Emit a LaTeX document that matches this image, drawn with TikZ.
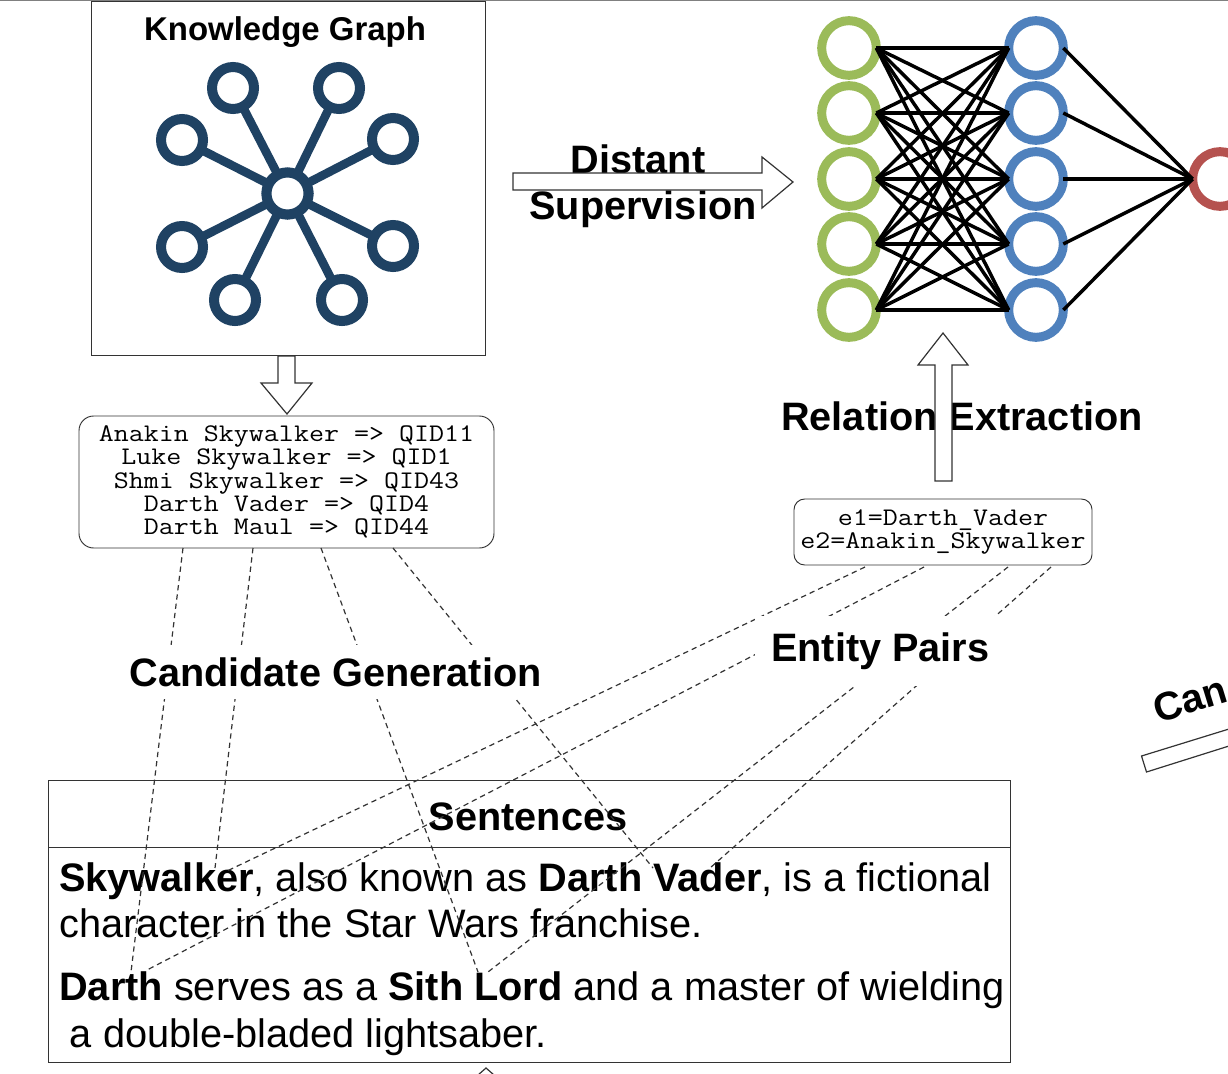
\documentclass[tikz,border=0pt]{standalone}
\usepackage{fontspec}
\setmainfont{Liberation Sans}
\newfontfamily\idfont[FakeStretch=1.15]{Latin Modern Mono}
\usetikzlibrary{positioning}

\definecolor{kgblue}{HTML}{1F4263}
\definecolor{nngreen}{HTML}{9BBB59}
\definecolor{nnblue}{HTML}{4F81BD}
\definecolor{nnred}{HTML}{B5524F}
\definecolor{boxline}{HTML}{333333}

\begin{document}
\begin{tikzpicture}[
    x=0.75pt, y=-0.75pt,
    kgnode/.style={circle, draw=kgblue, line width=7.5pt, minimum size=31.5pt, inner sep=0pt, outer sep=0pt, fill=white},
    neuron/.style={circle, line width=6.75pt, minimum size=41pt, inner sep=0pt, outer sep=0pt},
    edge/.style={line width=2.6pt, black},
    blockarrow/.style={draw=boxline, line width=0.9pt, fill=white},
    title/.style={font=\fontsize{29.75}{34}\selectfont\bfseries, inner sep=0pt},
    monobox/.style={draw=boxline, line width=0.7pt, rounded corners=11pt, align=center, inner sep=0pt, outer sep=0pt, fill=white, font=\idfont\fontsize{19}{17.4}\selectfont},
    link/.style={dash pattern=on 4pt off 3pt, line width=0.9pt, black!80}
]
\useasboundingbox (0,0) rectangle (1228,1074);

% --- Top edge ---
\draw[gray, line width=1pt] (0,0.5) -- (1228,0.5);

% --- Knowledge graph box ---
\node[draw=boxline, line width=0.7pt, minimum width=296pt, minimum height=265.5pt, inner sep=0pt, outer sep=0pt] (kg) at (288.5,178) {};
\node[font=\fontsize{24.7}{28}\selectfont\bfseries, inner sep=0pt] (kgtitle) at (285,32) {Knowledge Graph};

\node[kgnode] (hub) at (287.5,193.5) {};
\foreach \name/\px/\py in {a/233/88, b/339/88, c/182/140, d/393/139, e/182/247, f/393/246, g/235/300, h/342/300}
{
    \coordinate (p\name) at (\px,\py);
    \draw[kgblue, line width=6.5pt] (hub) -- (p\name);
    \node[kgnode] (k\name) at (p\name) {};
}
\node[kgnode] at (hub) {};

% --- Sentences table ---
\node[draw=boxline, line width=0.7pt, minimum width=721.5pt, minimum height=211.5pt, inner sep=0pt, outer sep=0pt, fill=white] (table) at (529,921) {};
\coordinate (headl) at (48,847);
\coordinate (headr) at (1010,847);
\draw[boxline, line width=0.7pt] (headl) -- (headr);

% --- Sentence text ---
\node[title] (sent) at (528,817) {Sentences};
\node[anchor=north west, align=left, inner sep=0pt, font=\fontsize{29.8}{35}\selectfont] (body) at (59,862)
    {\textbf{Skywalker}, also known as \textbf{Darth Vader}, is a fictional\\
     character in the Star Wars franchise.\\[12pt]
     \textbf{Darth} serves as a \textbf{Sith Lord} and a master of wielding\\
     \hspace*{8pt}a double-bladed lightsaber.};

% --- Mention boxes ---
\node[monobox, minimum width=311.25pt, minimum height=99pt] (cands) at (286.5,482)
    {Anakin Skywalker => QID11\\Luke Skywalker => QID1\\Shmi Skywalker => QID43\\Darth Vader => QID4\\Darth Maul => QID44};
\node[monobox, rounded corners=8pt, minimum width=223.5pt, minimum height=49.5pt] (pairs) at (943,532)
    {e1=Darth\_Vader\\e2=Anakin\_Skywalker};

% --- Word positions in the sentences ---
\coordinate (w1) at (131,972);
\coordinate (w2) at (215,868);
\coordinate (w3) at (478,972);
\coordinate (w4) at (653,868);
\coordinate (w5) at (227,871);
\coordinate (w6) at (147,970);
\coordinate (w7) at (488,972);
\coordinate (w8) at (710,868);

% --- Dashed links ---
\foreach \i/\sx in {1/183, 2/253, 3/321, 4/393}
{
    \coordinate (c\i) at (\sx,548);
    \draw[link] (c\i) -- (w\i);
}
\foreach \i/\sx in {5/865, 6/924, 7/1008, 8/1051}
{
    \coordinate (c\i) at (\sx,567);
    \draw[link] (c\i) -- (w\i);
}

% --- Labels over the links ---
\node[title, fill=white, inner xsep=3pt, minimum height=40pt] (candlabel) at (335.5,672) {Candidate Generation};
\node[title, fill=white, anchor=west, minimum height=53pt] (pairlabel) at (755,651) {\hspace*{12pt}Entity Pairs\hspace*{4.5pt}};

% --- Neural network ---
\foreach \i/\y in {1/48, 2/113, 3/179, 4/244, 5/310}
{
    \node[neuron, draw=nngreen] (g\i) at (849,\y) {};
    \node[neuron, draw=nnblue] (b\i) at (1036,\y) {};
}
\node[neuron, draw=nnred] (out) at (1220,179) {};
\foreach \i in {1,...,5}
{
    \foreach \j in {1,...,5}
    {
        \draw[edge] (g\i.east) -- (b\j.west);
    }
    \draw[edge] (b\i.east) -- (out.west);
}

% --- Labels under the arrows ---
\node[title] (distant) at (638,159) {Distant};
\node[title] (superv) at (643,209) {Supervision};
\node[title] (relex) at (962,416) {Relation Extraction};
\node[title, rotate=17, anchor=south west] (can) at (1158,724) {Can};

% --- Block arrows ---
\draw[blockarrow] (278,356) -- (295,356) -- (295,383) -- (312,383) -- (287,414) -- (261,383) -- (278,383) -- cycle;
\draw[blockarrow] (513,173) -- (762,173) -- (762,157) -- (793,182) -- (762,208) -- (762,190) -- (513,190) -- cycle;
\draw[blockarrow] (935,481) -- (935,365) -- (918,365) -- (943,333) -- (968,365) -- (952,365) -- (952,481) -- cycle;
\draw[blockarrow] (470,1082) -- (486,1068) -- (502,1082);
\draw[blockarrow] (1229,729) -- (1141.5,756) -- (1146.5,772) -- (1229,746);

\end{tikzpicture}
\end{document}
